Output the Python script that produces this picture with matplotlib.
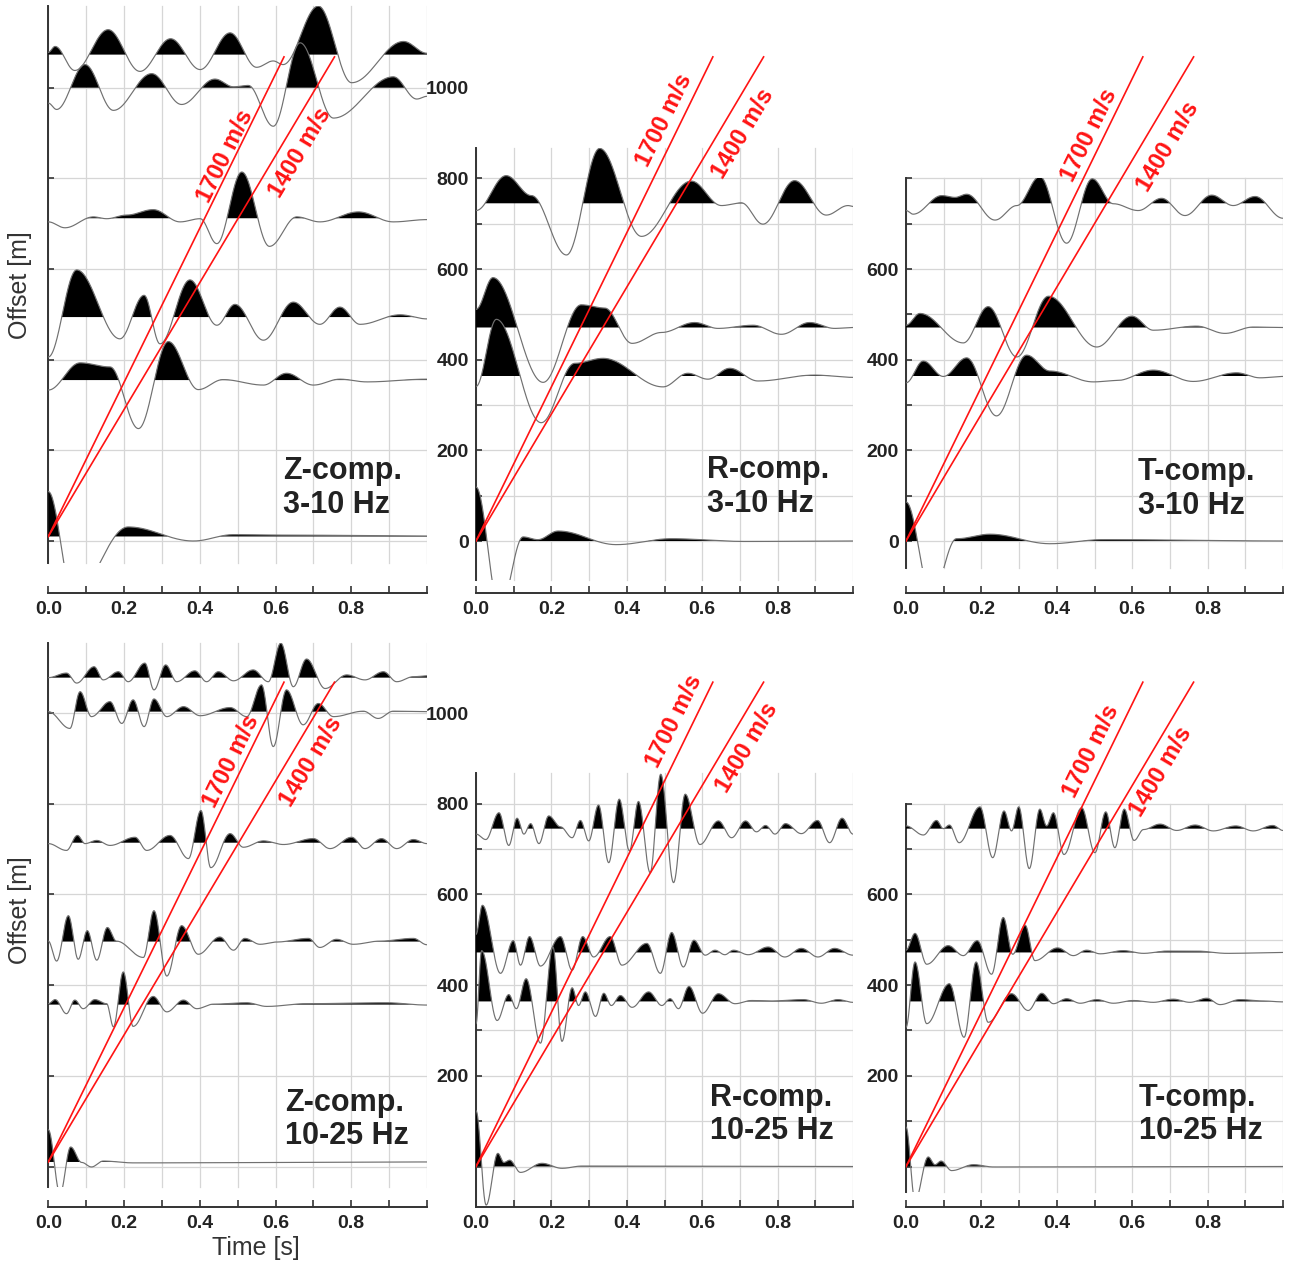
import numpy as np
import matplotlib
matplotlib.use("Agg")
import matplotlib.pyplot as plt
from matplotlib.patches import Rectangle

plt.rcParams['font.family'] = ['Liberation Sans', 'DejaVu Sans']

W, H = 1296, 1265

# --- trace data: offset of each trace [m], and extrema (time [s], amplitude [m]) ---
# Z component, 3-10 Hz
z_lf_offsets = [10, 355, 494, 712, 1000, 1073]
z_lf_t = [
    [0.0, 0.066, 0.211, 0.383, 0.489, 0.621, 1.0],
    [0.0, 0.084, 0.163, 0.238, 0.317, 0.396, 0.461, 0.568, 0.629, 0.700, 0.770, 0.841, 1.0],
    [0.0, 0.075, 0.189, 0.253, 0.295, 0.374, 0.445, 0.493, 0.568, 0.647, 0.717, 0.770, 0.823, 0.929, 1.0],
    [0.0, 0.044, 0.119, 0.154, 0.207, 0.277, 0.348, 0.401, 0.445, 0.511, 0.584, 0.656, 0.717, 0.819, 0.911, 1.0],
    [0.0, 0.022, 0.097, 0.172, 0.273, 0.352, 0.440, 0.489, 0.528, 0.594, 0.665, 0.753, 0.911, 0.973, 1.0],
    [0.0, 0.018, 0.070, 0.158, 0.242, 0.323, 0.401, 0.480, 0.550, 0.594, 0.620, 0.713, 0.801, 0.938, 1.0],
]
z_lf_a = [
    [99, -130, 21, -10, 4, 3, 1],
    [-22, 38, 29, -107, 85, -21, 1, -11, 15, -11, 2, -4, 2],
    [-88, 104, -48, 48, -59, 82, -18, 28, -51, 33, -16, 22, -16, 5, -4],
    [-8, -21, 3, -1, 7, 19, -8, -1, -56, 102, -62, 3, -8, 14, -8, -3],
    [-34, -48, 51, -50, 31, -37, 19, 2, 5, -85, 99, -67, 24, -25, -19],
    [5, 18, -35, 55, -37, 35, -33, 48, -28, -14, -22, 107, -62, 29, 3],
]

# R component, 3-10 Hz
r_lf_offsets = [0, 364, 471, 745]
r_lf_t = [
    [0.0, 0.063, 0.125, 0.164, 0.218, 0.372, 0.518, 0.713, 1.0],
    [0.0, 0.054, 0.173, 0.262, 0.337, 0.496, 0.562, 0.615, 0.673, 0.748, 0.898, 1.0],
    [0.0, 0.045, 0.178, 0.279, 0.341, 0.414, 0.492, 0.580, 0.642, 0.735, 0.810, 0.885, 0.951, 1.0],
    [0.0, 0.080, 0.147, 0.240, 0.328, 0.439, 0.571, 0.651, 0.704, 0.761, 0.845, 0.929, 0.987, 1.0],
]
r_lf_a = [
    [119, -150, 9, 3, 22, -8, 5, -1, 0],
    [-23, 125, -103, 28, 39, -24, 6, -7, 17, -11, 2, -3],
    [40, 110, -121, 50, 43, -35, -11, 11, -2, 5, -15, 11, -2, 0],
    [-16, 61, 17, -114, 121, -73, 49, -5, 1, -46, 50, -26, -5, -7],
]

# T component, 3-10 Hz
t_lf_offsets = [0, 364, 471, 745]
t_lf_t = [
    [0.0, 0.068, 0.134, 0.223, 0.382, 0.523, 1.0],
    [0.0, 0.046, 0.099, 0.161, 0.240, 0.320, 0.382, 0.497, 0.559, 0.656, 0.762, 0.877, 0.939, 1.0],
    [0.0, 0.037, 0.152, 0.218, 0.294, 0.378, 0.506, 0.599, 0.656, 0.771, 0.846, 0.921, 1.0],
    [0.0, 0.019, 0.095, 0.130, 0.161, 0.236, 0.294, 0.355, 0.426, 0.494, 0.550, 0.616, 0.678, 0.740, 0.811, 0.868, 0.926, 1.0],
]
t_lf_a = [
    [86, -120, 5, 15, -6, 3, 0],
    [-15, 33, -1, 40, -88, 46, 11, -13, -10, 13, -12, 7, -4, -1],
    [5, 31, -34, 46, -65, 69, -43, 25, -6, 3, -13, 1, 0],
    [-16, -24, 17, 13, 20, -37, -5, 59, -88, 54, -1, -16, 11, -27, 18, -5, 15, -33],
]

# Z component, 10-25 Hz
z_hf_offsets = [10, 357, 496, 714, 1003, 1078]
z_hf_t = [
    [0.0, 0.031, 0.059, 0.088, 0.114, 0.145, 0.224, 1.0],
    [0.0, 0.018, 0.048, 0.070, 0.092, 0.123, 0.154, 0.172, 0.198, 0.224, 0.277, 0.313, 0.357, 0.392,
     0.436, 0.524, 0.577, 0.682, 0.893, 1.0],
    [0.0, 0.022, 0.053, 0.079, 0.103, 0.128, 0.156, 0.180, 0.251, 0.279, 0.313, 0.352, 0.396, 0.453,
     0.489, 0.519, 0.559, 0.603, 0.687, 0.717, 0.761, 0.805, 0.876, 0.964, 1.0],
    [0.0, 0.048, 0.077, 0.097, 0.128, 0.163, 0.229, 0.260, 0.321, 0.370, 0.403, 0.429, 0.480, 0.515,
     0.568, 0.621, 0.700, 0.744, 0.801, 0.836, 0.880, 0.920, 0.964, 1.0],
    [0.0, 0.057, 0.084, 0.114, 0.163, 0.194, 0.224, 0.253, 0.279, 0.313, 0.357, 0.401, 0.480, 0.524,
     0.563, 0.594, 0.629, 0.673, 0.713, 0.753, 0.832, 0.871, 0.911, 1.0],
    [0.0, 0.048, 0.075, 0.121, 0.145, 0.185, 0.211, 0.255, 0.279, 0.310, 0.339, 0.387, 0.418, 0.449,
     0.489, 0.541, 0.581, 0.614, 0.647, 0.682, 0.731, 0.788, 0.836, 0.885, 0.920, 0.964, 1.0],
]
z_hf_a = [
    [71, -70, 33, -1, -11, 2, -2, 0],
    [2, 11, -20, 10, -9, 11, 2, -49, 72, -48, 18, -16, 10, -9, 1, 4, -4, 2, 4, -1],
    [1, -43, 57, -39, 24, -41, 31, 1, -35, 68, -76, 35, -28, 10, -19, 7, -6, -1, 7, -13, 5, -6, 1, 7, -7],
    [-2, -17, 16, -2, 5, -6, 12, -17, 16, -35, 71, -55, 20, -10, 4, -4, 9, -13, 12, -13, 9, -13, 7, -2],
    [0, -37, 44, -11, 22, -26, 26, -33, 28, -11, 11, -9, 9, -11, 59, -77, 48, -29, 18, -11, 1, -15, 1, 0],
    [0, 10, -12, 24, -5, 13, -9, 32, -27, 28, -9, 15, -9, 13, -7, 17, -9, 76, -20, 41, -24, 6, -5, 13,
     -9, 2, 4],
]

# R component, 10-25 Hz
r_hf_offsets = [0, 364, 472, 745]
r_hf_t = [
    [0.0, 0.027, 0.058, 0.074, 0.089, 0.118, 0.175, 0.228, 0.281, 1.0],
    [0.0, 0.015, 0.056, 0.087, 0.107, 0.133, 0.171, 0.204, 0.228, 0.255, 0.272, 0.290, 0.317, 0.339,
     0.359, 0.383, 0.414, 0.458, 0.493, 0.515, 0.537, 0.565, 0.601, 0.643, 0.687, 0.731, 0.784, 0.868,
     0.916, 0.960, 1.0],
    [0.0, 0.017, 0.065, 0.099, 0.118, 0.142, 0.171, 0.224, 0.255, 0.283, 0.312, 0.356, 0.387, 0.453,
     0.489, 0.519, 0.550, 0.578, 0.608, 0.634, 0.660, 0.683, 0.722, 0.775, 0.819, 0.863, 0.907, 0.951, 1.0],
    [0.0, 0.026, 0.061, 0.087, 0.109, 0.127, 0.145, 0.167, 0.193, 0.224, 0.255, 0.277, 0.299, 0.325,
     0.352, 0.380, 0.407, 0.431, 0.462, 0.490, 0.524, 0.555, 0.594, 0.643, 0.678, 0.715, 0.744, 0.768,
     0.793, 0.821, 0.863, 0.906, 0.938, 0.971, 1.0],
]
r_hf_a = [
    [123, -85, 29, 9, 14, -13, 7, -4, 1, 0],
    [-49, 112, -42, 15, -16, 50, -92, 120, -88, 30, -9, 21, -33, 18, -9, 13, -13, 21, -9, 6, -16, 33,
     -26, 17, -5, 2, 1, 4, -4, 4, -2],
    [40, 104, -46, 26, -28, 35, -30, 35, -39, 35, -10, 35, -28, 20, -46, 44, -32, 27, -6, 5, -5, 5, -5,
     12, -10, 9, -10, 9, -6],
    [-12, -24, 35, -37, 23, -12, 11, -33, 28, 4, -20, 18, -27, 52, -75, 65, -49, 60, -97, 120, -119, 76,
     -35, 17, -20, 17, -7, 7, -12, 11, -11, 18, -31, 23, -12],
]

# T component, 10-25 Hz
t_hf_offsets = [0, 364, 472, 745]
t_hf_t = [
    [0.0, 0.024, 0.059, 0.077, 0.093, 0.121, 0.179, 0.232, 1.0],
    [0.0, 0.024, 0.055, 0.115, 0.154, 0.186, 0.218, 0.280, 0.324, 0.360, 0.391, 0.426, 0.462, 0.506,
     0.550, 0.603, 0.656, 0.709, 0.753, 0.798, 0.833, 0.886, 0.948, 1.0],
    [0.0, 0.024, 0.055, 0.112, 0.152, 0.189, 0.227, 0.258, 0.283, 0.316, 0.342, 0.402, 0.444, 0.479,
     0.515, 0.576, 0.630, 0.691, 0.771, 0.851, 1.0],
    [0.0, 0.046, 0.081, 0.099, 0.115, 0.141, 0.196, 0.230, 0.260, 0.280, 0.299, 0.327, 0.355, 0.373,
     0.391, 0.419, 0.466, 0.501, 0.530, 0.554, 0.579, 0.605, 0.630, 0.674, 0.718, 0.767, 0.815, 0.875,
     0.921, 0.973, 1.0],
]
t_hf_a = [
    [87, -75, 21, 4, 12, -9, 4, -1, 0],
    [-57, 87, -49, 39, -79, 87, -46, 17, -20, 18, -5, 6, -4, 4, -4, 2, -2, 5, -2, 7, -7, 4, 1, -1],
    [5, 42, -26, 15, -7, 26, -48, 77, -4, 60, -18, 10, -7, 5, -3, 4, -2, 3, 3, -2, 0],
    [6, -14, 18, 0, 8, -31, 48, -64, 39, -5, 48, -88, 43, 6, 35, -57, 46, -53, 37, -42, 43, -26, -2, 10,
     -4, 8, -5, 6, -5, 7, -4],
]

velocities = [1700, 1400]
vel_labels = ['1700 m/s', '1400 m/s']
panel_titles = ['Z-comp.\n3-10 Hz', 'R-comp.\n3-10 Hz', 'T-comp.\n3-10 Hz',
                'Z-comp.\n10-25 Hz', 'R-comp.\n10-25 Hz', 'T-comp.\n10-25 Hz']
x_ticks = [0.0, 0.1, 0.2, 0.3, 0.4, 0.5, 0.6, 0.7, 0.8, 0.9, 1.0]
x_ticklabels = ['0.0', '', '0.2', '', '0.4', '', '0.6', '', '0.8', '', '']

# --- layout (pixels) ---
col_px = [(48.3, 427.0), (476.0, 853.0), (906.0, 1283.0)]
row_px = [dict(axis=593, zero=541, top=0, scale=0.4533),
          dict(axis=1207, zero=1166.5, top=626, scale=0.4535)]

fig = plt.figure(figsize=(W / 100, H / 100), dpi=100)
tt = np.linspace(0, 1, 2500)


def wiggle(tk, ak, t):
    tk = np.asarray(tk, float)
    ak = np.asarray(ak, float)
    i = np.clip(np.searchsorted(tk, t, side='right') - 1, 0, len(tk) - 2)
    u = np.clip((t - tk[i]) / (tk[i + 1] - tk[i]), 0, 1)
    w = 0.5 - 0.5 * np.cos(np.pi * u)
    return ak[i] + (ak[i + 1] - ak[i]) * w


def panel(col, row, offsets, ts, amps, title, lo, hi, grid_step, ylab_vals,
          title_pos, lab_pos):
    x0, x1 = col_px[col]
    r = row_px[row]
    ax = fig.add_axes([x0 / W, 1 - r['axis'] / H, (x1 - x0) / W, (r['axis'] - r['top']) / H])
    ax.set_xlim(0, 1)
    ax.set_ylim((r['zero'] - r['axis']) / r['scale'], (r['zero'] - r['top']) / r['scale'])
    ax.patch.set_visible(False)

    # grid, only inside the data box
    gcol = '#d6d6d6'
    for g in x_ticks:
        ax.plot([g, g], [lo, hi], color=gcol, lw=0.9, zorder=1)
    gy = np.arange(0, hi + 1, grid_step)
    for g in gy:
        ax.plot([0, 1], [g, g], color=gcol, lw=0.9, zorder=1)

    clip = Rectangle((0, lo), 1, hi - lo, transform=ax.transData)
    for off, tk, ak in zip(offsets, ts, amps):
        a = wiggle(tk, ak, tt)
        f = ax.fill_between(tt, off, off + a, where=a > 0, interpolate=True,
                            color='black', lw=0, zorder=3)
        f.set_clip_path(clip)
        ln, = ax.plot(tt, off + a, color='#707070', lw=0.85, zorder=4)
        ln.set_clip_path(clip)

    # moveout lines
    base = offsets[0]
    for v, lab, (lt, loff) in zip(velocities, vel_labels, lab_pos):
        t_end = (1068 - base) / v
        ax.plot([0, t_end], [base, base + v * t_end], color='#ff1414', lw=1.2, zorder=6)
        p0 = ax.transData.transform((0, base))
        p1 = ax.transData.transform((t_end, base + v * t_end))
        ang = np.degrees(np.arctan2(p1[1] - p0[1], p1[0] - p0[0]))
        ax.text(lt, loff, lab, rotation=ang, rotation_mode='anchor', ha='center', va='center',
                color='#ff1414', fontsize=17, fontweight='bold', zorder=7)

    ax.text(title_pos[0], title_pos[1], title, ha='left', va='center', fontsize=22,
            fontweight='bold', color='#222222', linespacing=1.15, zorder=8)

    # axes styling
    for s in ['top', 'right']:
        ax.spines[s].set_visible(False)
    for s in ['left', 'bottom']:
        ax.spines[s].set_color('#333333')
        ax.spines[s].set_linewidth(1.4)
    ax.spines['left'].set_bounds(lo, hi)
    ax.spines['bottom'].set_bounds(0, 1)

    ax.set_xticks(x_ticks)
    ax.set_xticklabels(x_ticklabels, fontweight='bold', color='#222222')
    ax.tick_params(axis='x', direction='in', length=5, width=1.2, color='#333333',
                   pad=6, labelsize=14)

    ax.yaxis.remove_overlapping_locs = False
    ax.set_yticks(ylab_vals)
    ax.set_yticklabels([str(v) for v in ylab_vals], fontweight='bold', color='#222222')
    ax.set_yticks(gy, minor=True)
    ax.tick_params(axis='y', which='major', length=0, pad=5, labelsize=14)
    ax.tick_params(axis='y', which='minor', direction='in', length=4, width=1.2, color='#333333')
    return ax


panel(0, 0, z_lf_offsets, z_lf_t, z_lf_a, panel_titles[0], -49, 1180, 200, [],
      (0.62, 117), [(0.467, 849), (0.665, 856)])
panel(1, 0, r_lf_offsets, r_lf_t, r_lf_a, panel_titles[1], -86, 867, 100,
      [0, 200, 400, 600, 800, 1000], (0.613, 119), [(0.500, 929), (0.708, 898)])
panel(2, 0, t_lf_offsets, t_lf_t, t_lf_a, panel_titles[2], -60, 800, 100,
      [0, 200, 400, 600], (0.615, 115), [(0.485, 896), (0.695, 871)])
panel(0, 1, z_hf_offsets, z_hf_t, z_hf_a, panel_titles[3], -45, 1154, 200, [],
      (0.625, 104), [(0.482, 893), (0.693, 893)])
panel(1, 1, r_hf_offsets, r_hf_t, r_hf_a, panel_titles[4], -89, 868, 100,
      [200, 400, 600, 800, 1000], (0.622, 115), [(0.526, 981), (0.720, 924)])
panel(2, 1, t_hf_offsets, t_hf_t, t_hf_a, panel_titles[5], -56, 800, 100,
      [200, 400, 600], (0.618, 115), [(0.490, 915), (0.676, 871)])

fig.text(20 / W, 1 - 285 / H, 'Offset [m]', rotation=90, ha='center', va='center',
         fontsize=18, color='#333333')
fig.text(20 / W, 1 - 910 / H, 'Offset [m]', rotation=90, ha='center', va='center',
         fontsize=18, color='#333333')
fig.text(256 / W, 1 - 1248 / H, 'Time [s]', ha='center', va='center',
         fontsize=18, color='#333333')

fig.savefig('out.png', dpi=100)
